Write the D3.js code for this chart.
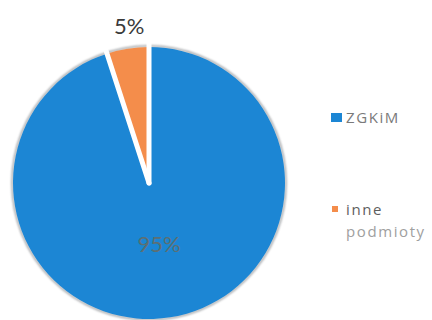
<!DOCTYPE html>
<html>
<head>
<meta charset="utf-8">
<script src="https://cdn.jsdelivr.net/npm/d3@7"></script>
<style>
  html, body { margin: 0; padding: 0; background: #fff; }
  svg { display: block; }
</style>
</head>
<body>
<svg id="chart" width="432" height="320"></svg>
<script>
// Share of entities (percent)
const categories = ["ZGKiM", "inne podmioty"];
const values = [95, 5];
const labels = ["95%", "5%"];
const colors = ["#1c86d4", "#f48d4b"];

const svg = d3.select("#chart");
const cx = 149, cy = 183, r = 136;

const defs = svg.append("defs");
defs.append("filter").attr("id", "soft")
  .append("feGaussianBlur").attr("stdDeviation", 0.9);

const pie = d3.pie().sort(null).value(d => d)(values);
const arc = d3.arc().innerRadius(0).outerRadius(r);

const g = svg.append("g").attr("transform", `translate(${cx},${cy})`);

// faint dark rim around the disc
g.append("circle")
  .attr("r", r + 0.8)
  .attr("fill", "none")
  .attr("stroke", "#4a4f55")
  .attr("stroke-width", 1.8)
  .attr("opacity", 0.55)
  .attr("filter", "url(#soft)");

g.selectAll("path.slice")
  .data(pie)
  .join("path")
  .attr("class", "slice")
  .attr("d", arc)
  .attr("fill", (d, i) => colors[i]);

// white separators along the slice boundaries
g.selectAll("line.sep")
  .data(pie)
  .join("line")
  .attr("class", "sep")
  .attr("x1", 0).attr("y1", 0)
  .attr("x2", d => Math.sin(d.startAngle) * (r + 4))
  .attr("y2", d => -Math.cos(d.startAngle) * (r + 4))
  .attr("stroke", "#fff")
  .attr("stroke-width", 5)
  .attr("stroke-linecap", "round");

// percentage labels
const font = "Lato, 'Open Sans', sans-serif";
g.append("text")
  .attr("x", 10).attr("y", 69)
  .attr("text-anchor", "middle")
  .attr("font-family", font)
  .attr("font-size", 22)
  .attr("fill", "#5d6f72")
  .text(labels[0]);

const mid1 = (pie[1].startAngle + pie[1].endAngle) / 2;
g.append("text")
  .attr("x", Math.sin(mid1) * (r + 17) + 4)
  .attr("y", -Math.cos(mid1) * (r + 17) + 2)
  .attr("text-anchor", "middle")
  .attr("font-family", font)
  .attr("font-size", 22)
  .attr("fill", "#3a3a3a")
  .text(labels[1]);

// legend
const legendY = [118, 210];
const legend = svg.append("g");
legend.append("rect")
  .attr("x", 331).attr("y", legendY[0] - 5).attr("width", 11).attr("height", 9)
  .attr("fill", colors[0]);
legend.append("rect")
  .attr("x", 332).attr("y", legendY[1] - 4).attr("width", 6).attr("height", 6)
  .attr("fill", colors[1]);

categories.forEach((c, i) => {
  const t = legend.append("text")
    .attr("x", 346).attr("y", legendY[i] + 5)
    .attr("font-family", "'Open Sans', sans-serif")
    .attr("font-size", 15)
    .attr("letter-spacing", 1.6);
  c.split(" ").forEach((w, k) => {
    t.append("tspan")
      .attr("x", 346)
      .attr("dy", k === 0 ? 0 : 22)
      .attr("fill", i === 0 ? "#7a7a7a" : (k === 0 ? "#5e5e5e" : "#a0a0a0"))
      .text(w);
  });
});
</script>
</body>
</html>
